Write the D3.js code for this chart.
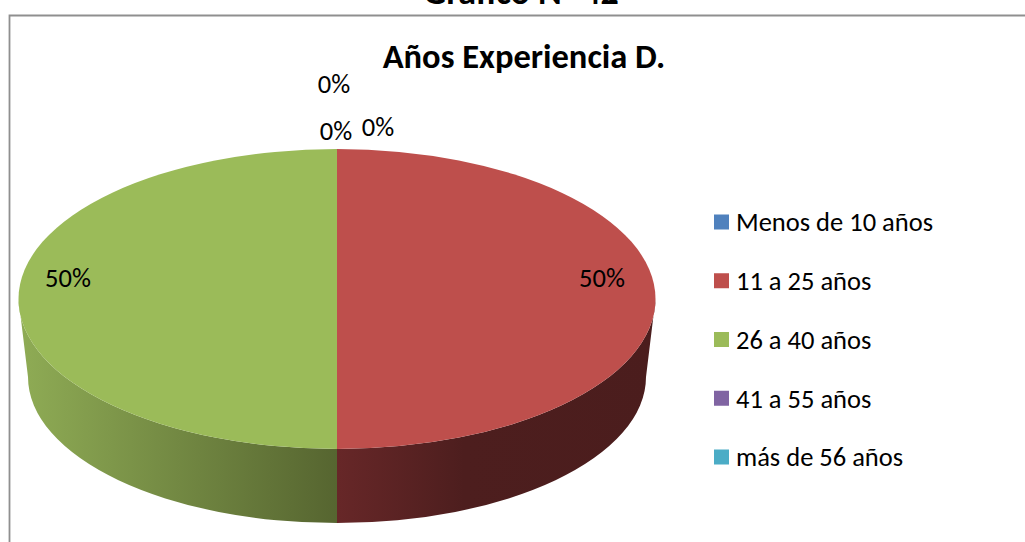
<!DOCTYPE html>
<html><head><meta charset="utf-8">
<script src="https://cdn.jsdelivr.net/npm/d3@7/dist/d3.min.js"></script>
<style>html,body{margin:0;padding:0;background:#fff;overflow:hidden}svg{display:block}text{font-family:Carlito,Calibri,"Open Sans","Noto Sans",sans-serif}</style>
</head><body><svg id="c" width="1025" height="542"></svg>
<script>
const categories=["Menos de 10 años","11 a 25 años","26 a 40 años","41 a 55 años","más de 56 años"];
const values=[0,50,50,0,0];
const colors=["#4f81bd","#be4f4c","#9bbb59","#8064a2","#4bacc6"];
const zeroLabelPos=[[334,84],[378,127],[336,131]];
const svg=d3.select("#c");
const cx=337,cy=299,rx=318.5,ry=150;
const bRx=309,bRy=146,bCy=377;
const defs=svg.append("defs");
const gG=defs.append("linearGradient").attr("id","gg").attr("gradientUnits","userSpaceOnUse").attr("x1",cx-rx).attr("x2",cx).attr("y1",0).attr("y2",0);
gG.append("stop").attr("offset",0).attr("stop-color","#8fac55");
gG.append("stop").attr("offset",1).attr("stop-color","#566530");
const gR=defs.append("linearGradient").attr("id","gr").attr("gradientUnits","userSpaceOnUse").attr("x1",cx).attr("x2",cx+rx).attr("y1",0).attr("y2",0);
gR.append("stop").attr("offset",0).attr("stop-color","#672728");
gR.append("stop").attr("offset",.4).attr("stop-color","#4d1e1e");
gR.append("stop").attr("offset",1).attr("stop-color","#4b1d1d");
// frame
svg.append("path").attr("d","M9.5 542V15.5H1025").attr("fill","none").attr("stroke","#8f8f8f").attr("stroke-width",1.8);
svg.append("text").attr("x",521).attr("y",4).attr("text-anchor","middle").attr("font-size",36).attr("font-weight",700).text("Gráfico N° 42");
svg.append("text").attr("x",524).attr("y",68).attr("text-anchor","middle").attr("font-size",34.5).attr("font-weight",700).text("Años Experiencia D.");
// pie values through the layout, projected to an ellipse
const pie=d3.pie().sort(null).startAngle(0).endAngle(2*Math.PI).value(d=>d);
const arcs=pie(values);
const scaleX=d3.scaleLinear().domain([-1,1]).range([cx-rx,cx+rx]);
const scaleY=d3.scaleLinear().domain([-1,1]).range([cy-ry,cy+ry]);
const bX=d3.scaleLinear().domain([-1,1]).range([cx-bRx,cx+bRx]);
const bY=d3.scaleLinear().domain([-1,1]).range([bCy-bRy,bCy+bRy]);
function pt(a){return [scaleX(Math.sin(a)),scaleY(-Math.cos(a))];}
function bpt(a){return [bX(Math.sin(a)),bY(-Math.cos(a))];}
function topPath(a0,a1){const p0=pt(a0),p1=pt(a1);return `M${cx} ${cy}L${p0[0]} ${p0[1]}A${rx} ${ry} 0 ${a1-a0>Math.PI?1:0} 1 ${p1[0]} ${p1[1]}Z`;}
arcs.forEach((d,i)=>{
  if(d.endAngle-d.startAngle<=0)return;
  const a0=Math.max(d.startAngle,Math.PI/2),a1=Math.min(d.endAngle,3*Math.PI/2);
  if(a1>a0){
    const t0=pt(a0),t1=pt(a1),b0=bpt(a0),b1=bpt(a1);
    svg.append("path").attr("d",`M${t0[0]} ${t0[1]}A${rx} ${ry} 0 0 1 ${t1[0]} ${t1[1]}L${b1[0]} ${b1[1]}A${bRx} ${bRy} 0 0 0 ${b0[0]} ${b0[1]}Z`)
      .attr("fill",i===1?"url(#gr)":"url(#gg)");
  }
});
arcs.forEach((d,i)=>{
  if(d.endAngle-d.startAngle<=0)return;
  svg.append("path").attr("d",topPath(d.startAngle,d.endAngle)).attr("fill",colors[i]);
});
// labels
let z=0;
arcs.forEach((d,i)=>{
  if(d.value===0){const p=zeroLabelPos[z++];
    svg.append("text").attr("x",p[0]).attr("y",p[1]).attr("dy",".35em").attr("text-anchor","middle").attr("font-size",26.5).text(d3.format(".0%")(d.value/100));}
});
const lblR={1:[602,278],2:[68,278]};
arcs.forEach((d,i)=>{
  if(d.value>0)svg.append("text").attr("x",lblR[i][0]).attr("y",lblR[i][1]).attr("dy",".35em").attr("text-anchor","middle").attr("font-size",26.5).text(d3.format(".0%")(d.value/100));
});
// legend
const ly=d3.scalePoint().domain(categories).range([222,457]);
categories.forEach((c,i)=>{
  svg.append("rect").attr("x",714).attr("y",ly(c)-7.5).attr("width",15).attr("height",15).attr("fill",colors[i]);
  svg.append("text").attr("x",736).attr("y",ly(c)).attr("dy",".35em").attr("font-size",26.5).text(c);
});
</script></body></html>
